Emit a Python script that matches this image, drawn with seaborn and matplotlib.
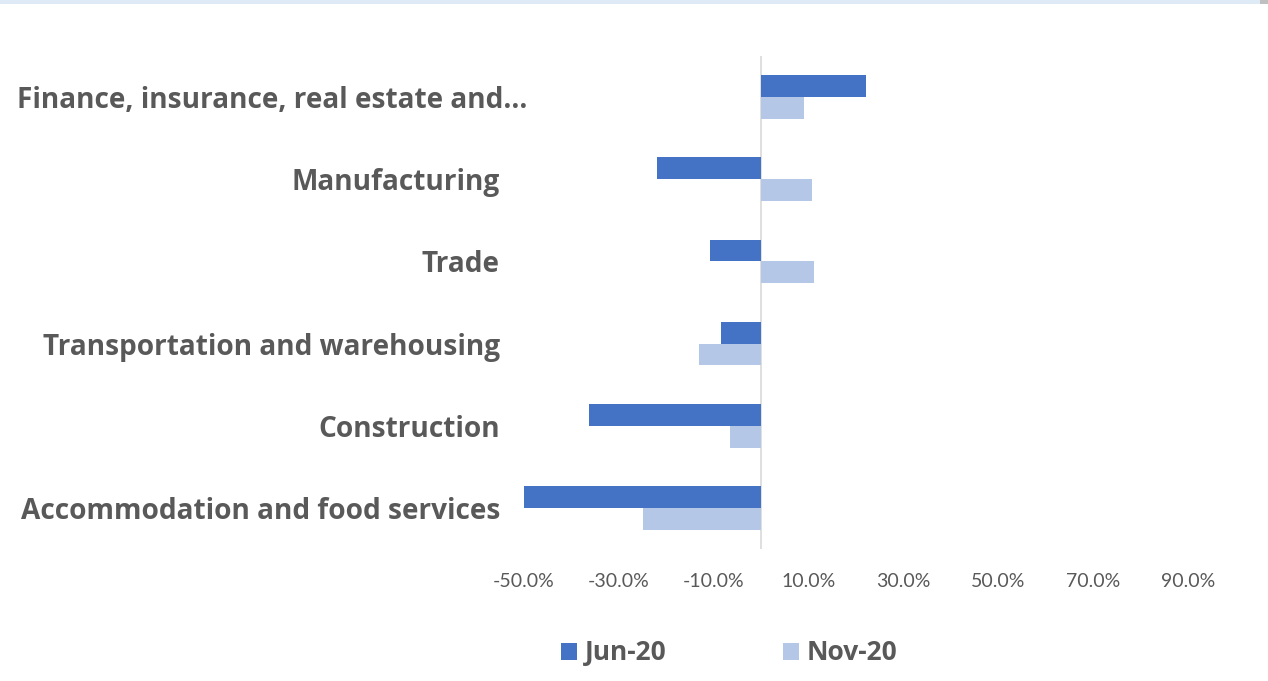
import matplotlib
matplotlib.use("Agg")
import matplotlib.pyplot as plt
from matplotlib.patches import Rectangle
from matplotlib.transforms import ScaledTranslation
from matplotlib.ticker import FuncFormatter
import seaborn as sns
import pandas as pd

# Change in activity by industry, two survey periods (percent)
industries = [
    "Finance, insurance, real estate and\u2026",
    "Manufacturing",
    "Trade",
    "Transportation and warehousing",
    "Construction",
    "Accommodation and food services",
]
jun_20 = [22.2, -21.8, -10.8, -8.4, -36.2, -50.3]
nov_20 = [9.2, 10.8, 11.1, -13.1, -6.5, -24.8]
periods = ["Jun-20", "Nov-20"]
x_ticks = [-50, -30, -10, 10, 30, 50, 70, 90]

palette = {"Jun-20": "#4472C4", "Nov-20": "#B4C7E7"}
text_color = "#595959"

df = pd.DataFrame({
    "industry": industries * 2,
    "value": jun_20 + nov_20,
    "period": [periods[0]] * len(industries) + [periods[1]] * len(industries),
})

sns.set_style("white")
plt.rcParams["font.family"] = ["Lato", "DejaVu Sans"]
bold_family = ["Open Sans", "DejaVu Sans"]

W, H = 1268, 681
fig = plt.figure(figsize=(W / 100, H / 100), dpi=100)
ax = fig.add_axes([523.5 / W, 1 - 549 / H, (1188 - 523.5) / W, (549 - 56) / H])

sns.barplot(
    data=df, x="value", y="industry", hue="period",
    order=industries, hue_order=periods, palette=palette,
    orient="h", width=0.53, gap=0, linewidth=0, saturation=1,
    errorbar=None, legend=False, ax=ax,
)

ax.set_xlim(-50, 90)
ax.set_xticks(x_ticks)
ax.xaxis.set_major_formatter(FuncFormatter(lambda v, _: f"{v:.1f}%"))
ax.axvline(0, color="#D9D9D9", lw=1.2, zorder=0)

for s in ax.spines.values():
    s.set_visible(False)
ax.grid(False)
ax.set_xlabel("")
ax.set_ylabel("")

ax.tick_params(axis="x", length=0, pad=17, labelsize=14, labelcolor=text_color)
ax.tick_params(axis="y", length=0, pad=17, labelsize=20.2, labelcolor=text_color)
for lab in ax.get_yticklabels():
    lab.set_fontweight("bold")
    lab.set_family(bold_family)
# the truncated first label sits a little further right
first = ax.get_yticklabels()[0]
first.set_transform(first.get_transform() + ScaledTranslation(27 / 100, 0, fig.dpi_scale_trans))

handles = [Rectangle((0, 0), 1, 1, facecolor=palette[p], edgecolor="none") for p in periods]
fig.legend(
    handles, periods, loc="center", bbox_to_anchor=(729.5 / W, 1 - 653 / H),
    ncol=2, frameon=False, handlelength=0.6, handleheight=0.6,
    handletextpad=0.3, columnspacing=4.4,
    prop={"size": 19, "weight": "bold", "family": bold_family}, labelcolor=text_color,
)

# thin header strip along the top edge
fig.patches.append(Rectangle((0, 1 - 4 / H), 1, 4 / H, transform=fig.transFigure,
                             facecolor="#DEEAF6", edgecolor="none"))
fig.patches.append(Rectangle((1260 / W, 1 - 4 / H), 8 / W, 4 / H, transform=fig.transFigure,
                             facecolor="#BFBFBF", edgecolor="none"))

fig.savefig("out.png", dpi=100, facecolor="white")
